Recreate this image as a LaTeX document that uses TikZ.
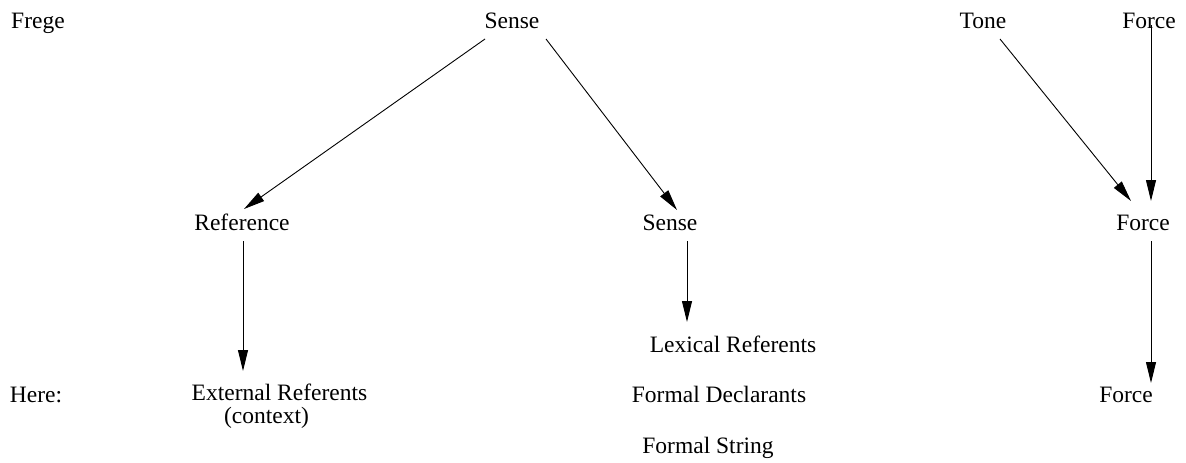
\documentclass[tikz,border=0pt]{standalone}
\usepackage{fontspec}
\setmainfont{Liberation Serif}
\usetikzlibrary{arrows.meta}
\begin{document}
\begin{tikzpicture}
[x=1pt,y=-1pt,
  worddecorate/.style={anchor=base,inner sep=0pt,font=\fontsize{23.5}{24}\selectfont},%
  arrowdecorate/.style={-{Triangle[length=21pt,width=10pt]},line width=0.9pt}]
\useasboundingbox (0,0) rectangle (1186,463);
%% words
\foreach \nodename/\x/\y/\word in {frege/38/28/Frege, senseA/512/28/Sense,
  tone/983/28/Tone, forceA/1149/28/Force,
  reference/242/230/Reference, senseB/670/230/Sense, forceB/1143/230/Force,
  lexical/733/352/Lexical Referents,
  here/36/402/Here:, external/279.5/400/External Referents,
  context/266.5/423/(context), declarants/719/402/Formal Declarants,
  forceC/1126/402/Force, string/708/453/Formal String} {
  \node (\nodename) at (\x,\y) [worddecorate] {\word};
}
%% arrows
\draw[arrowdecorate] ([shift={(-27pt,-11pt)}]senseA.base) -- ([shift={(2pt,21pt)}]reference.base);
\draw[arrowdecorate] ([shift={(34pt,-11pt)}]senseA.base) -- ([shift={(7pt,20pt)}]senseB.base);
\draw[arrowdecorate] ([shift={(17pt,-11pt)}]tone.base) -- ([shift={(-12pt,29pt)}]forceB.base);
\draw[arrowdecorate] ([shift={(2pt,3pt)}]forceA.base) -- ([shift={(8pt,29pt)}]forceB.base);
\draw[arrowdecorate] ([shift={(1pt,-11pt)}]reference.base) -- ([shift={(-36.5pt,29pt)}]external.base);
\draw[arrowdecorate] ([shift={(17pt,-11pt)}]senseB.base) -- ([shift={(-46pt,30pt)}]lexical.base);
\draw[arrowdecorate] ([shift={(8pt,-11pt)}]forceB.base) -- ([shift={(25pt,19pt)}]forceC.base);
\end{tikzpicture}
\end{document}
